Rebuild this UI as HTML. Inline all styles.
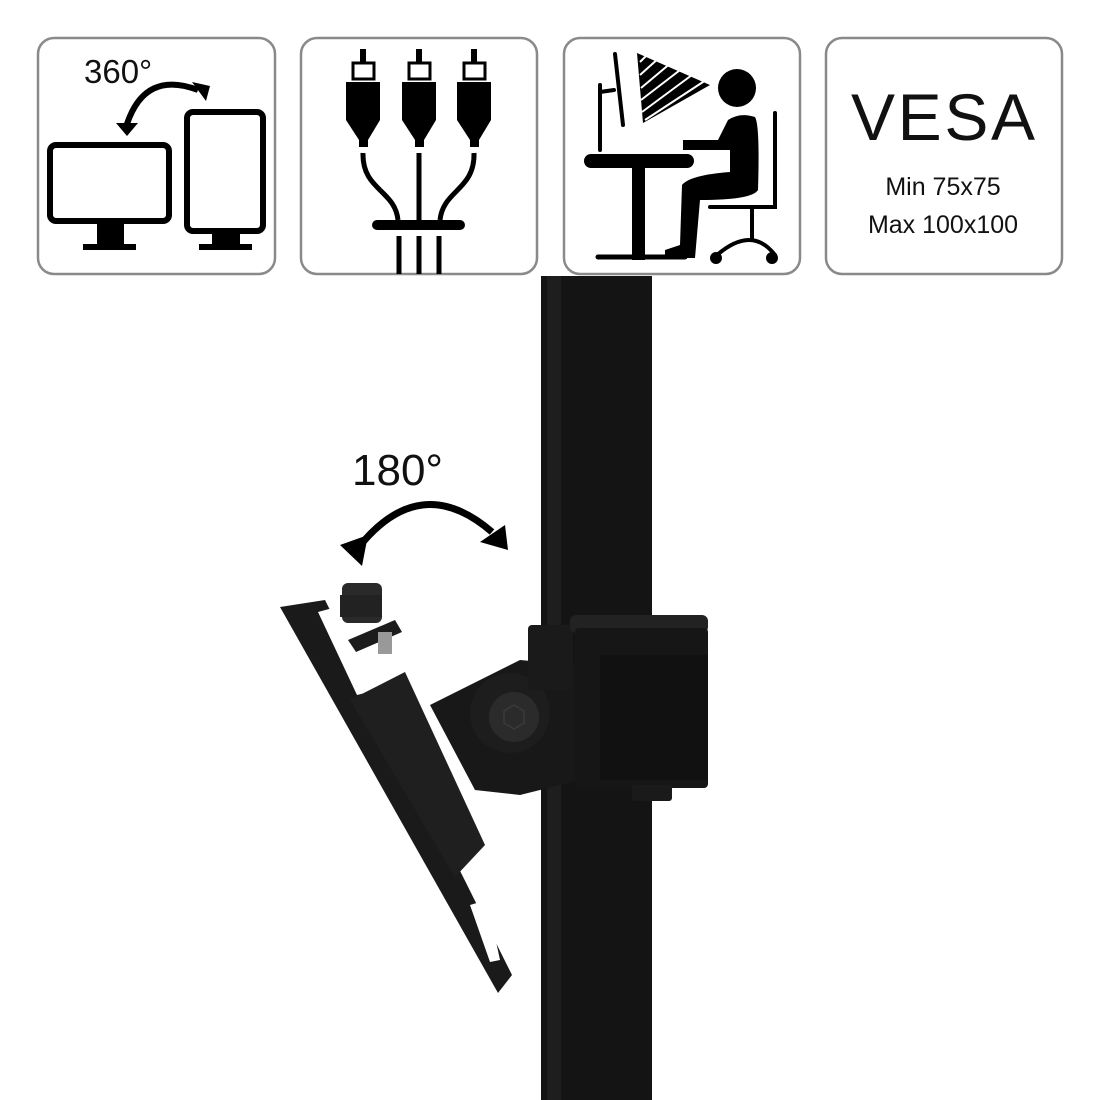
<!DOCTYPE html>
<html><head><meta charset="utf-8"><style>
html,body{margin:0;padding:0;background:#fff;}
svg{display:block;}
text{font-family:"Liberation Sans",sans-serif;}
</style></head><body>
<svg width="1100" height="1100" viewBox="0 0 1100 1100" xmlns="http://www.w3.org/2000/svg">
<rect width="1100" height="1100" fill="#fff"/>
<!-- boxes -->
<g fill="#fff" stroke="#8a8a8a" stroke-width="2.5">
<rect x="38" y="38" width="237" height="236" rx="16"/>
<rect x="301" y="38" width="236" height="236" rx="16"/>
<rect x="564" y="38" width="236" height="236" rx="16"/>
<rect x="826" y="38" width="236" height="236" rx="16"/>
</g>
<!-- icon1 -->
<text x="84" y="83" font-size="33" fill="#111">360°</text>
<g fill="none" stroke="#000" stroke-width="6">
<rect x="50" y="145" width="119" height="76" rx="6"/>
<rect x="187" y="112" width="76" height="119" rx="6"/>
<path d="M127,124 Q145,70 198,90"/>
</g>
<polygon points="116,123 138,123 127,136" fill="#000"/>
<polygon points="192,82 210,86 206,101" fill="#000"/>
<rect x="97" y="224" width="27" height="20" fill="#000"/><rect x="83" y="244" width="53" height="6" fill="#000"/>
<rect x="212" y="234" width="28" height="10" fill="#000"/><rect x="199" y="244" width="53" height="6" fill="#000"/>
<!-- icon2 -->
<g fill="#000">
<g id="plug">
<rect x="360" y="49" width="6" height="13"/>
<rect x="353" y="63" width="21" height="16" fill="#fff" stroke="#000" stroke-width="3"/>
<path d="M346,82 H380 V120 L368,140 V147 H359 V140 L346,120 Z"/>
</g>
<use href="#plug" x="56"/><use href="#plug" x="111"/>
<rect x="372" y="220" width="93" height="10" rx="5"/>
</g>
<g fill="none" stroke="#000" stroke-width="5">
<path d="M363,153 C362,190 395,190 398,220"/>
<path d="M419,153 V220"/>
<path d="M474,153 C475,190 443,190 440,220"/>
<path d="M399,236 V274 M419,236 V274 M439,236 V274"/>
</g>
<!-- icon3 -->
<g fill="#000" stroke="#000" stroke-linecap="round">
<path d="M600,85 V150 M600,92 L614,90 M615,54 L623,125" stroke-width="4" fill="none"/>
<rect x="584" y="154" width="110" height="14" rx="7" stroke="none"/>
<rect x="632" y="160" width="13" height="100" stroke="none"/>
<path d="M598,257 H685" stroke-width="5"/>
<circle cx="737" cy="88" r="19" stroke="none"/>
<path d="M683,140 H718 L728,120 Q740,112 755,117 Q760,125 758,190 Q752,200 700,200 L695,258 H665 V250 L680,245 L682,185 Q690,175 730,172 V150 H683 Z" stroke="none"/>
<path d="M775,113 V207 H710 M752,207 V240 M717,255 Q752,225 775,255" stroke-width="4" fill="none"/>
<circle cx="716" cy="258" r="6" stroke="none"/><circle cx="772" cy="258" r="6" stroke="none"/>
<polygon points="637,53 710,85 643,123" stroke="none"/>
</g>
<g stroke="#fff" stroke-width="2">
<path d="M640,62 L648,54 M640,75 L660,57 M641,88 L672,62 M641,100 L684,67 M642,112 L696,72 M645,120 L706,80"/>
</g>
<!-- icon4 -->
<text x="943" y="140" font-size="66" text-anchor="middle" fill="#111" textLength="184">VESA</text>
<text x="943" y="195" font-size="25" text-anchor="middle" fill="#111">Min 75x75</text>
<text x="943" y="233" font-size="25" text-anchor="middle" fill="#111">Max 100x100</text>
<!-- pole -->
<rect x="541" y="276" width="111" height="824" fill="#141414"/>
<rect x="547" y="276" width="14" height="824" fill="#1e1e1e"/>
<!-- 180 -->
<text x="352" y="485" font-size="44" fill="#111">180°</text>
<path d="M358,548 Q420,470 492,532" fill="none" stroke="#000" stroke-width="7"/>
<polygon points="340,545 368,535 362,566" fill="#000"/>
<polygon points="505,525 508,550 480,542" fill="#000"/>
<!-- mount -->
<g>
<polygon points="280,607 325,600 512,975 498,993" fill="#1a1a1a"/>
<polygon points="318,612 340,606 378,690 357,695" fill="#fff"/>
<polygon points="470,905 487,900 500,960 490,962" fill="#fff"/>
<polygon points="348,640 395,620 402,632 356,652" fill="#1c1c1c"/>
<rect x="342" y="583" width="40" height="40" rx="6" fill="#2a2a2a"/>
<rect x="340" y="595" width="42" height="22" fill="#222"/>
<rect x="378" y="632" width="14" height="22" fill="#999"/>
<polygon points="350,700 405,672 485,845 455,877" fill="#1f1f1f"/>
<polygon points="430,705 520,660 575,665 580,780 520,795 475,790" fill="#181818"/>
<circle cx="510" cy="713" r="40" fill="#1d1d1d"/>
<circle cx="514" cy="717" r="25" fill="#2b2b2b"/>
<polygon points="514,705 524,711 524,723 514,729 504,723 504,711" fill="none" stroke="#3a3a3a" stroke-width="1.5"/>
<rect x="528" y="625" width="45" height="65" rx="4" fill="#1a1a1a"/>
<rect x="570" y="615" width="138" height="18" rx="6" fill="#222"/>
<rect x="575" y="628" width="133" height="160" rx="4" fill="#161616"/>
<rect x="600" y="655" width="108" height="125" fill="#111"/>
<rect x="632" y="785" width="40" height="16" rx="3" fill="#1a1a1a"/>
</g>
</svg>
</body></html>
